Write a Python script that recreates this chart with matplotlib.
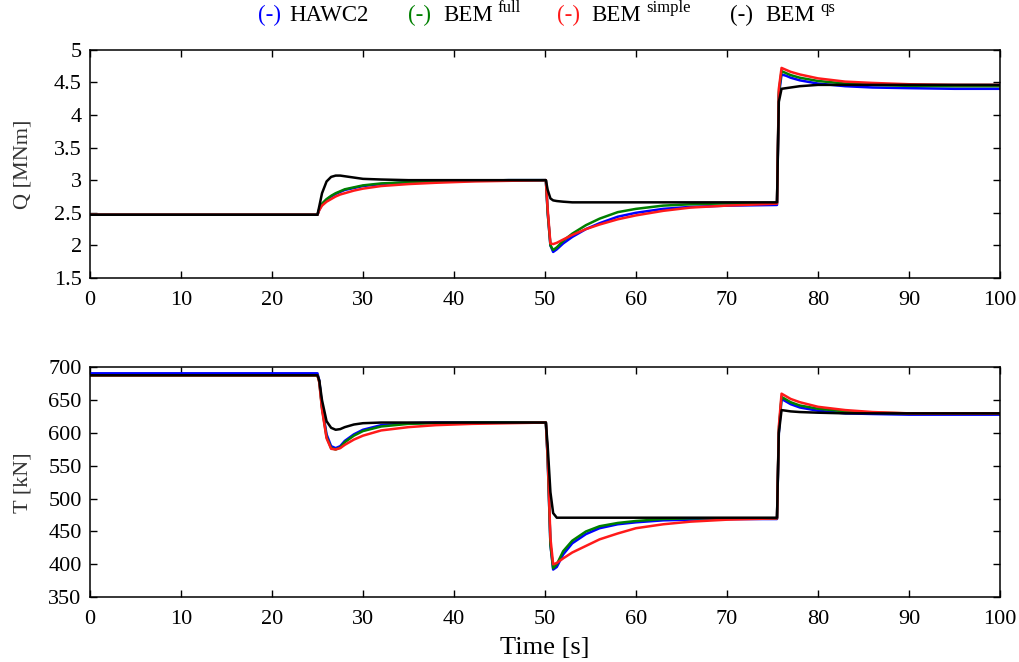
import matplotlib
matplotlib.use("Agg")
import matplotlib.pyplot as plt

plt.rcParams['font.family'] = ['Liberation Serif', 'DejaVu Serif']

# time samples [s]
t = [0, 25.0, 25.2, 25.5, 26, 26.5, 27, 27.5, 28, 29, 30, 32, 35, 38, 42, 46, 50.1,
     50.3, 50.6, 50.9, 51.3, 52, 53, 54.5, 56, 58, 60, 63, 66, 70, 75.5,
     75.7, 76, 76.5, 77, 78, 80, 83, 86, 90, 95, 100]

# aerodynamic torque Q [MNm]
q_hawc2 = [2.47, 2.47, 2.55, 2.63, 2.70, 2.75, 2.79, 2.82, 2.85, 2.88, 2.91, 2.94, 2.97, 2.98, 2.99, 3.0, 3.0,
           2.5, 2.0, 1.90, 1.94, 2.03, 2.13, 2.25, 2.34, 2.44, 2.50, 2.56, 2.59, 2.61, 2.62,
           4.3, 4.62, 4.60, 4.57, 4.53, 4.48, 4.44, 4.42, 4.41, 4.40, 4.40]
q_full = [2.47, 2.47, 2.56, 2.64, 2.71, 2.76, 2.80, 2.83, 2.86, 2.89, 2.92, 2.95, 2.97, 2.985, 2.99, 3.0, 3.0,
          2.5, 2.0, 1.93, 1.97, 2.07, 2.18, 2.31, 2.41, 2.51, 2.56, 2.61, 2.63, 2.645, 2.65,
          4.35, 4.67, 4.64, 4.61, 4.57, 4.52, 4.48, 4.46, 4.445, 4.44, 4.44]
q_simple = [2.47, 2.47, 2.54, 2.61, 2.67, 2.71, 2.75, 2.78, 2.80, 2.84, 2.87, 2.91, 2.94, 2.96, 2.98, 2.99, 3.0,
            2.55, 2.03, 2.02, 2.04, 2.09, 2.16, 2.25, 2.32, 2.40, 2.46, 2.53, 2.58, 2.61, 2.64,
            4.4, 4.72, 4.69, 4.66, 4.62, 4.56, 4.51, 4.49, 4.47, 4.46, 4.46]
q_qs = [2.47, 2.47, 2.60, 2.80, 2.98, 3.05, 3.07, 3.07, 3.06, 3.04, 3.02, 3.01, 3.0, 3.0, 3.0, 3.0, 3.0,
        2.85, 2.72, 2.69, 2.68, 2.67, 2.66, 2.66, 2.66, 2.66, 2.66, 2.66, 2.66, 2.66, 2.66,
        4.2, 4.40, 4.41, 4.42, 4.44, 4.46, 4.46, 4.46, 4.46, 4.46, 4.46]

# thrust T [kN]
T_hawc2 = [691, 691, 680, 640, 598, 580, 577, 580, 588, 598, 605, 612, 615, 616, 616, 616, 616,
           560, 430, 392, 396, 415, 432, 446, 455, 461, 464, 467, 468, 469, 469,
           600, 652, 648, 644, 639, 634, 630, 629, 628, 628, 628]
T_full = [688, 688, 678, 638, 594, 577, 575, 578, 586, 596, 603, 610, 614, 615, 616, 616, 616,
          560, 430, 394, 400, 420, 436, 450, 458, 463, 466, 469, 470, 470, 470,
          605, 655, 651, 647, 642, 637, 633, 631, 630, 630, 630]
T_simple = [688, 688, 677, 636, 592, 576, 575, 577, 582, 590, 596, 604, 609, 612, 614, 615, 616,
            565, 440, 400, 402, 409, 418, 428, 438, 447, 455, 461, 465, 468, 470,
            610, 660, 656, 652, 647, 640, 635, 632, 630, 630, 630]
T_qs = [688, 688, 680, 650, 618, 608, 605, 606, 609, 613, 615, 616, 616, 616, 616, 616, 616,
        580, 510, 478, 471, 471, 471, 471, 471, 471, 471, 471, 471, 471, 471,
        600, 635, 634, 633, 632, 631, 630, 630, 630, 630, 630]

colors = ['#0000ff', '#008000', '#ff1a1a', 'black']

fig = plt.figure(figsize=(10.19, 6.62), dpi=100)
ax1 = fig.add_axes([0.0883, 0.580, 0.893, 0.345])
ax2 = fig.add_axes([0.0883, 0.098, 0.893, 0.347])

for ax, series in [(ax1, [q_hawc2, q_full, q_simple, q_qs]),
                   (ax2, [T_hawc2, T_full, T_simple, T_qs])]:
    for y, c in zip(series, colors):
        ax.plot(t, y, color=c, lw=1.8)
    ax.set_xlim(0, 100)
    ax.set_xticks(range(0, 101, 10))
    ax.tick_params(direction='in', top=True, right=True, length=5, width=1.0,
                   labelsize=16)
    ax.tick_params(axis='x', pad=9)
    ax.tick_params(axis='y', pad=6)
    for s in ax.spines.values():
        s.set_linewidth(1.1)

ax1.set_ylim(1.5, 5)
ax1.set_yticks([1.5, 2, 2.5, 3, 3.5, 4, 4.5, 5])
ax1.set_yticklabels(['1.5', '2', '2.5', '3', '3.5', '4', '4.5', '5'])
ax1.set_ylabel('Q [MNm]', fontsize=16, color='#333333', va='center')
ax1.yaxis.set_label_coords(-0.074, 0.5)

ax2.set_ylim(350, 700)
ax2.set_yticks(range(350, 701, 50))
ax2.set_ylabel('T [kN]', fontsize=16, color='#333333', va='center')
ax2.yaxis.set_label_coords(-0.074, 0.5)
ax2.set_xlabel('Time [s]', fontsize=19, va='center')
ax2.xaxis.set_label_coords(0.5, -0.222)

# legend row
ly = 0.976
fs = 16.5
fig.text(258 / 1019, ly, '(-)', color=colors[0], fontsize=fs, va='center')
fig.text(289 / 1019, ly, 'HAWC2', fontsize=fs, va='center')
fig.text(408 / 1019, ly, '(-)', color=colors[1], fontsize=fs, va='center')
fig.text(443 / 1019, ly, 'BEM', fontsize=fs, va='center')
fig.text(497 / 1019, ly + 0.012, 'full', fontsize=12, va='center')
fig.text(557 / 1019, ly, '(-)', color=colors[2], fontsize=fs, va='center')
fig.text(591 / 1019, ly, 'BEM', fontsize=fs, va='center')
fig.text(646 / 1019, ly + 0.012, 'simple', fontsize=12, va='center')
fig.text(730 / 1019, ly, '(-)', color=colors[3], fontsize=fs, va='center')
fig.text(765 / 1019, ly, 'BEM', fontsize=fs, va='center')
fig.text(820 / 1019, ly + 0.012, 'qs', fontsize=12, va='center')

fig.savefig('out.png', dpi=100)
